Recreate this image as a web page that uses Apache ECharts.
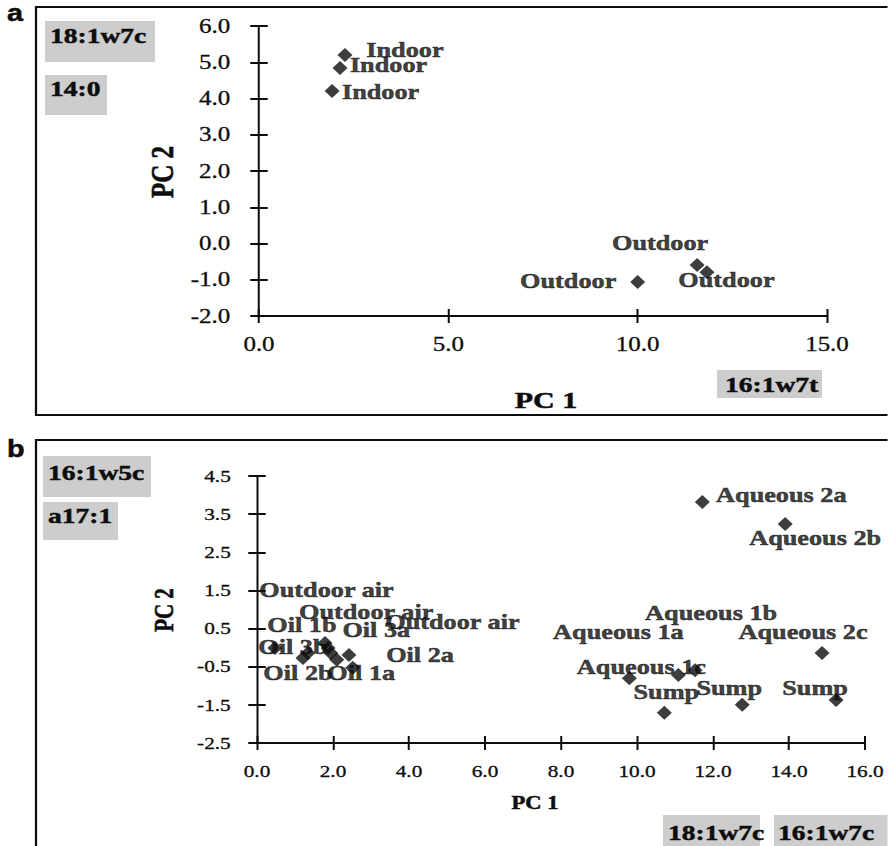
<!DOCTYPE html>
<html><head><meta charset="utf-8">
<script src="https://cdn.jsdelivr.net/npm/echarts@6/dist/echarts.min.js"></script>
<style>
html,body{margin:0;padding:0;background:#fff;overflow:hidden;}
#wrap{width:888px;height:846px;overflow:hidden;position:relative;background:#fff;}
#chart{width:710.4px;height:846px;transform:scaleX(1.25);transform-origin:0 0;}
</style></head>
<body><div id="wrap"><div id="chart"></div></div>
<script>
// Horizontal stretch of the original figure
const S = 1.25;

// ---------- Panel a data ----------
const aNames = ['Indoor', 'Indoor', 'Indoor', 'Outdoor', 'Outdoor', 'Outdoor'];
const aPC1 = [2.27, 2.14, 1.93, 10.0, 11.57, 11.83];
const aPC2 = [5.20, 4.84, 4.21, -1.06, -0.59, -0.79];
const aXTicks = ['0.0', '5.0', '10.0', '15.0'];
const aYTicks = ['-2.0', '-1.0', '0.0', '1.0', '2.0', '3.0', '4.0', '5.0', '6.0'];
const aBoxes = ['18:1w7c', '14:0', '16:1w7t'];

// ---------- Panel b data ----------
const bNames = ['Outdoor air', 'Outdoor air', 'Outdoor air', 'Oil 1a', 'Oil 1b', 'Oil 2a', 'Oil 2b', 'Oil 3a', 'Oil 3b',
  'Aqueous 1a', 'Aqueous 1b', 'Aqueous 1c', 'Aqueous 2a', 'Aqueous 2b', 'Aqueous 2c', 'Sump', 'Sump', 'Sump'];
const bPC1 = [1.79, 1.94, 2.42, 2.52, 1.34, 1.87, 1.21, 2.10, 0.47,
  9.80, 11.53, 11.09, 11.72, 13.90, 14.87, 10.72, 12.77, 15.24];
const bPC2 = [0.12, -0.14, -0.19, -0.53, -0.14, -0.01, -0.27, -0.32, -0.01,
  -0.80, -0.59, -0.72, 3.82, 3.24, -0.14, -1.71, -1.50, -1.37];
const bXTicks = ['0.0', '2.0', '4.0', '6.0', '8.0', '10.0', '12.0', '14.0', '16.0'];
const bYTicks = ['-2.5', '-1.5', '-0.5', '0.5', '1.5', '2.5', '3.5', '4.5'];
const bBoxes = ['16:1w5c', 'a17:1', '18:1w7c', '16:1w7c'];

// ---------- label placement (style, reference px) ----------
const aLabelOffsets = [[60, -5], [48.5, -3], [48.5, 1], [-69.5, -1], [-37, -22], [19.5, 8]];
const bLabelOffsets = [[1.5, -53], [35.5, -41], [103.5, -33], [8.5, 5], [-6, -28], [92, 7], [-5, 15], [39.5, -30], [18, -1],
  [-11, -46], [16, -57], [-37, -8], [79, -7], [30, 14], [-19, -21], [2, -21], [-13, -17], [-21, -12]];

const INK = '#0d0d0d';
const SERIF = 'Liberation Serif';
const SANS = 'Liberation Sans';

function X(v) { return v / S; }

function makeData(names, xs, ys, offs) {
  return names.map((n, i) => ({
    name: n,
    value: [xs[i], ys[i]],
    label: { offset: [offs[i][0] / S, offs[i][1]] }
  }));
}

function axisPair(type, gridIndex, ticks, fontSize, margin, lineW, tickW) {
  const min = parseFloat(ticks[0]);
  const max = parseFloat(ticks[ticks.length - 1]);
  const interval = parseFloat(ticks[1]) - parseFloat(ticks[0]);
  const pos = type === 'x' ? 'bottom' : 'left';
  const base = {
    type: 'value', gridIndex, min, max, interval, position: pos,
    splitLine: { show: false }
  };
  const main = Object.assign({}, base, {
    axisLine: { show: true, onZero: false, lineStyle: { color: INK, width: lineW } },
    axisTick: { show: true, inside: false, length: 7, lineStyle: { color: INK, width: tickW } },
    axisLabel: {
      show: true, margin, fontSize, fontFamily: SERIF, color: INK,
      textBorderColor: INK, textBorderWidth: 0.3,
      formatter: v => ticks[Math.round((v - min) / interval)]
    }
  });
  const twin = Object.assign({}, base, {
    axisLine: { show: false, onZero: false },
    axisTick: { show: true, inside: true, length: 7, lineStyle: { color: INK, width: tickW } },
    axisLabel: { show: false }
  });
  return [main, twin];
}

const labelStyle = {
  show: true, position: 'inside', formatter: '{b}',
  fontFamily: SERIF, fontWeight: 'bold', fontSize: 21, color: INK,
  textBorderColor: INK, textBorderWidth: 0.5,
  align: 'center', verticalAlign: 'middle'
};

const ax = axisPair('x', 0, aXTicks, 20, 18, 2, 1.6);
const ay = axisPair('y', 0, aYTicks, 20, 23, 1.6, 2);
const bx = axisPair('x', 1, bXTicks, 17, 20, 2, 1.6);
const by = axisPair('y', 1, bYTicks, 17, 21, 1.6, 2);

function box(x0, y0, x1, y1) {
  return { type: 'rect', shape: { x: X(x0), y: y0, width: X(x1 - x0), height: y1 - y0 },
    style: { fill: '#cdcdcd' }, silent: true, z: 1 };
}
function txt(t, x, y, size, weight, family, align, rot) {
  return { type: 'text', x: X(x), y: y, rotation: rot || 0, z: 5, silent: true,
    style: { text: t, fontSize: size, fontWeight: weight, fontFamily: family, fill: INK,
      stroke: INK, lineWidth: 0.5,
      align: align || 'left', verticalAlign: 'middle',
      textAlign: align || 'left', textVerticalAlign: 'middle' } };
}

const graphic = [
  // frames
  { type: 'rect', shape: { x: X(36), y: 7, width: 900, height: 408 }, style: { fill: 'none', stroke: INK, lineWidth: 1.8 }, silent: true },
  { type: 'rect', shape: { x: X(36), y: 440, width: 900, height: 500 }, style: { fill: 'none', stroke: INK, lineWidth: 1.8 }, silent: true },
  // panel letters
  txt('a', 7, 13, 23, 'bold', SANS),
  txt('b', 7, 449, 23, 'bold', SANS),
  // gray tags panel a
  box(45, 21, 155, 62), txt(aBoxes[0], 50, 35, 22, 'bold', SERIF),
  box(45, 75, 107, 115), txt(aBoxes[1], 50, 88, 22, 'bold', SERIF),
  box(717, 370, 822, 398), txt(aBoxes[2], 725, 384, 22, 'bold', SERIF),
  // gray tags panel b
  box(43, 456, 151, 497), txt(bBoxes[0], 48, 472, 22, 'bold', SERIF),
  box(43, 502, 118, 540), txt(bBoxes[1], 48, 515, 22, 'bold', SERIF),
  box(663, 815, 760, 850), txt(bBoxes[2], 668, 832, 22, 'bold', SERIF),
  box(774, 815, 900, 850), txt(bBoxes[3], 778, 832, 22, 'bold', SERIF),
  // axis titles
  txt('PC 2', 163, 172, 25, 'bold', SERIF, 'center', Math.PI / 2),
  txt('PC 1', 546, 400, 24, 'bold', SERIF, 'center'),
  txt('PC 2', 164, 610, 21, 'bold', SERIF, 'center', Math.PI / 2),
  txt('PC 1', 535, 803, 18, 'bold', SERIF, 'center')
];

const chart = echarts.init(document.getElementById('chart'), null, { renderer: 'svg' });
chart.setOption({
  animation: false,
  backgroundColor: 'transparent',
  textStyle: { fontFamily: SERIF },
  grid: [
    { left: X(259), top: 26, width: X(568), height: 290 },
    { left: X(257), top: 476, width: X(609), height: 267 }
  ],
  xAxis: [ax[0], ax[1], bx[0], bx[1]],
  yAxis: [ay[0], ay[1], by[0], by[1]],
  graphic: graphic,
  series: [
    {
      type: 'scatter', xAxisIndex: 0, yAxisIndex: 0,
      symbol: 'diamond', symbolSize: [12, 14],
      itemStyle: { color: INK },
      label: labelStyle,
      data: makeData(aNames, aPC1, aPC2, aLabelOffsets)
    },
    {
      type: 'scatter', xAxisIndex: 2, yAxisIndex: 2,
      symbol: 'diamond', symbolSize: [12, 14],
      itemStyle: { color: INK },
      label: labelStyle,
      data: makeData(bNames, bPC1, bPC2, bLabelOffsets)
    }
  ]
});
</script>
</body></html>
